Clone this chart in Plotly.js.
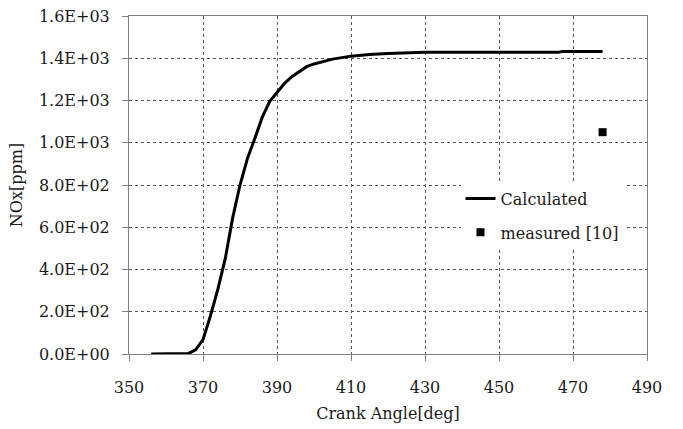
<!DOCTYPE html>
<html>
<head>
<meta charset="utf-8">
<script src="https://cdn.plot.ly/plotly-3.0.1.min.js"></script>
<style>
  html, body { margin: 0; padding: 0; background: #fff; }
  #chart { width: 683px; height: 429px; }
</style>
</head>
<body>
<div id="chart"></div>
<script>
// Calculated NOx history over crank angle
const crankAngle = [356, 360, 364, 366, 368, 370, 372, 374, 376, 378, 380, 382, 384, 386, 388, 390,
                    392, 394, 396, 398, 400, 402, 405, 410, 415, 420, 425, 430, 440, 450, 460, 466, 467, 478];
const noxCalculated = [0, 0, 0, 2, 20, 68, 180, 306, 450, 643, 800, 925, 1020, 1120, 1195, 1238,
                       1280, 1313, 1338, 1360, 1373, 1382, 1396, 1410, 1418, 1422, 1424, 1428, 1428, 1428, 1428, 1428, 1432, 1432];

// Measured exhaust NOx
const measuredAngle = [478];
const measuredNox = [1050];

const xTicks = [350, 370, 390, 410, 430, 450, 470, 490];
const yTicks = [0, 200, 400, 600, 800, 1000, 1200, 1400, 1600];
const yTickText = ['0.0E+00', '2.0E+02', '4.0E+02', '6.0E+02', '8.0E+02',
                   '1.0E+03', '1.2E+03', '1.4E+03', '1.6E+03'];

const serif = 'DejaVu Serif';
const ink = '#1a1a1a';
const fsize = 16;

const traces = [
  {
    x: crankAngle, y: noxCalculated, name: 'Calculated',
    type: 'scatter', mode: 'lines',
    line: { color: '#000', width: 3 },
    legendgroup: 'a'
  },
  {
    x: measuredAngle, y: measuredNox, name: 'measured [10]',
    type: 'scatter', mode: 'markers',
    marker: { symbol: 'square', size: 8, color: '#000' },
    legendgroup: 'b'
  }
];

const axisCommon = {
  showline: true, mirror: true, linecolor: '#808080', linewidth: 1,
  ticks: 'outside', ticklen: 6, tickcolor: '#808080', tickwidth: 1,
  showgrid: true, gridcolor: '#555', gridwidth: 1, griddash: 'dot',
  zeroline: false,
  tickfont: { family: serif, size: fsize, color: ink }
};

const layout = {
  width: 683, height: 429,
  margin: { l: 129, r: 36, t: 16, b: 75 },
  paper_bgcolor: '#fff', plot_bgcolor: '#fff',
  font: { family: serif, size: fsize, color: ink },
  showlegend: true,
  legend: {
    x: 0.64, y: 0.51, xanchor: 'left', yanchor: 'top',
    bgcolor: '#fff', borderwidth: 0,
    font: { family: serif, size: fsize, color: ink },
    traceorder: 'grouped', tracegroupgap: 10
  },
  xaxis: Object.assign({}, axisCommon, {
    range: [350, 490], tickvals: xTicks, ticktext: xTicks.map(String),
    ticklabelstandoff: 13,
    title: { text: 'Crank Angle[deg]', standoff: 11, font: { family: serif, size: fsize, color: ink } }
  }),
  yaxis: Object.assign({}, axisCommon, {
    range: [0, 1600], tickvals: yTicks, ticktext: yTickText,
    ticklabelstandoff: 9,
    title: { text: 'NOx[ppm]', standoff: 12, font: { family: serif, size: fsize, color: ink } }
  })
};

Plotly.newPlot('chart', traces, layout, { displayModeBar: false, staticPlot: true });
</script>
</body>
</html>
